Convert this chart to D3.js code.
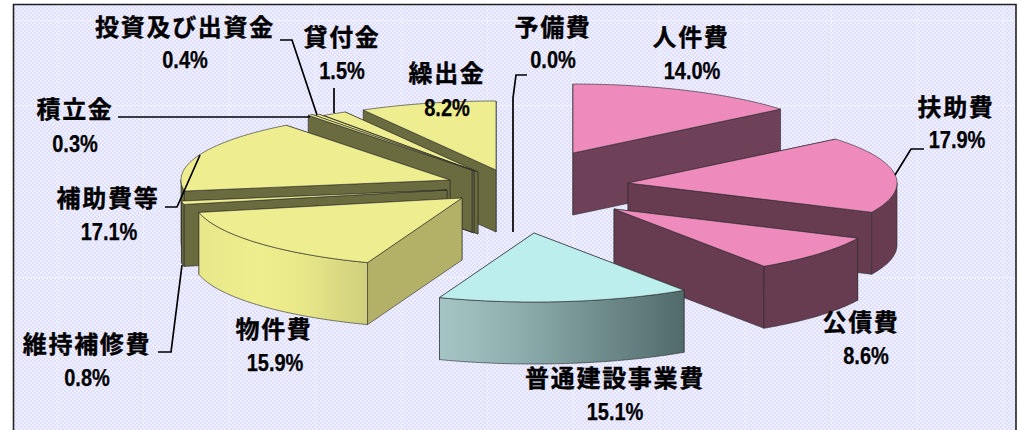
<!DOCTYPE html>
<html lang="ja">
<head>
<meta charset="utf-8">
<script src="https://cdn.jsdelivr.net/npm/d3@7/dist/d3.min.js"></script>
<style>
html,body{margin:0;padding:0;background:#fff;overflow:hidden}
svg{display:block}
.name{font-family:"Noto Sans CJK JP",sans-serif;font-weight:700;font-size:24px;letter-spacing:1.7px;text-anchor:middle;fill:#000;stroke:#000;stroke-width:0.35px}
.pct{font-family:"Liberation Sans",sans-serif;font-weight:700;font-size:23px;text-anchor:middle;fill:#000;stroke:#000;stroke-width:0.25px}
</style>
</head>
<body>
<svg id="c" width="1025" height="430"></svg>
<script>
// ---- data ----
const categories = ["人件費","扶助費","公債費","普通建設事業費","物件費","維持補修費","補助費等","積立金","投資及び出資金","貸付金","繰出金","予備費"];
const shares     = [14.0,17.9,8.6,15.1,15.9,0.8,17.1,0.3,0.4,1.5,8.2,0.0];

// ---- layout and style (kept apart from the data) ----
const W = 1025, H = 430;
const pieRx = 269, pieRy = 69, pieDepth = 62;
const sliceOrigin = [[573,153],[628,183],[614,209],[534,233],[462,198],[447,190],[450,180],[472,170],[474,171],[478,172],[496,170],[513,233]];
const paintOrder = [10,9,8,7,6,5,4,0,1,2,3];
const topColor  = ["#ee8bbc","#ee8bbc","#ee8bbc","#bdeeee","#eeee90","#eeee90","#eeee90","#eeee90","#eeee90","#eeee90","#eeee90","#eeee90"];
const wallStart = ["#6f4159","#673b50","#673b50","#5d7f7f","#b3b067","#6b6b40","#6b6b40","#6b6b40","#6b6b40","#6b6b40","#6b6b40","#6b6b40"];
const rimColor  = ["#6f4159","#673b50","#673b50","url(#rimCyan)","url(#rimYellow)","#6b6b40","#6b6b40","#6b6b40","#6b6b40","#6b6b40","#6b6b40","#6b6b40"];
const labelPos  = [[691,37,692,71],[956,107,957,140],[861,322,866,356],[615,378,615,412],[274,329,275,363],[87,344,87,378],[108,198,109,232],[75,109,75,144],[185,27,185,60],[342,37,342,71],[447,73,447,108],[553,27,553,60]];
const pctSqueeze = 0.87;
const leaders = [
  [[118,117],[310,117]],
  [[280,40],[292,40],[317,115]],
  [[334,88],[334,113]],
  [[165,207],[177,207],[200,155]],
  [[158,352],[171,352],[182,265]],
  [[527,75],[516,75],[513,98],[513,232]],
  [[924,149],[911,149],[895,175]]
];

const svg = d3.select("#c");
const defs = svg.append("defs");

// dithered background with dotted grid
const dither = defs.append("pattern").attr("id","dither").attr("width",4).attr("height",4).attr("patternUnits","userSpaceOnUse");
dither.append("rect").attr("width",4).attr("height",4).attr("fill","#dfdfff");
dither.append("rect").attr("width",2).attr("height",2).attr("fill","#efefff");
dither.append("rect").attr("x",2).attr("y",2).attr("width",2).attr("height",2).attr("fill","#efefff");

function gradient(id,x1,x2,stops){
  const g = defs.append("linearGradient").attr("id",id).attr("gradientUnits","userSpaceOnUse")
    .attr("x1",x1).attr("x2",x2).attr("y1",0).attr("y2",0);
  stops.forEach(([o,c])=>g.append("stop").attr("offset",o).attr("stop-color",c));
}
gradient("rimYellow",199,368,[[0,"#e8e88a"],[0.35,"#eeee8e"],[0.6,"#e9e98a"],[1,"#cfce7d"]]);
gradient("rimCyan",440,685,[[0,"#a4c5c4"],[0.3,"#8fb0af"],[1,"#506a6a"]]);

// frame
svg.append("rect").attr("x",13).attr("y",4).attr("width",1003).attr("height",H).attr("fill","url(#dither)").attr("shape-rendering","crispEdges");
const gridX = d3.range(57,1016,86), gridY = d3.range(20,430,85.75);
svg.append("g").selectAll("line").data(gridX).join("line")
  .attr("x1",d=>d).attr("x2",d=>d).attr("y1",5).attr("y2",H);
svg.append("g").selectAll("line").data(gridY).join("line")
  .attr("y1",d=>d).attr("y2",d=>d).attr("x1",14).attr("x2",1015);
svg.selectAll("g line").attr("stroke","#f6f6ff").attr("stroke-width",1).attr("stroke-dasharray","2 2").attr("shape-rendering","crispEdges");
svg.append("path").attr("d",`M13.5,${H}V4.5H1016V${H}`).attr("fill","none").attr("stroke","#222").attr("stroke-width",1.6);

// pie geometry
const arcs = d3.pie().sort(null).value(d=>d)(shares);
const ux = d3.scaleLinear().domain([-1,1]).range([-pieRx,pieRx]);
const uy = d3.scaleLinear().domain([-1,1]).range([-pieRy,pieRy]);
const line = d3.line();
function rim(i,t,dz){ const o=sliceOrigin[i]; return [o[0]+ux(Math.sin(t)), o[1]+uy(-Math.cos(t))+dz]; }
function samples(a,b){ const n=Math.max(2,Math.ceil((b-a)/0.02)); return d3.range(n+1).map(k=>a+(b-a)*k/n); }
function wall(i,t){ const o=sliceOrigin[i], e=rim(i,t,0); return [o,e,[e[0],e[1]+pieDepth],[o[0],o[1]+pieDepth]]; }

const pieG = svg.append("g");
paintOrder.forEach(i=>{
  const a=arcs[i], g=pieG.append("g");
  const faces=[];
  faces.push({pts:wall(i,a.endAngle),fill:wallStart[i],z:-Math.cos(a.endAngle)});
  faces.push({pts:wall(i,a.startAngle),fill:wallStart[i],z:-Math.cos(a.startAngle)});
  const f0=Math.max(a.startAngle,Math.PI/2), f1=Math.min(a.endAngle,Math.PI*1.5);
  if(f1>f0){
    const ts=samples(f0,f1);
    faces.push({pts:ts.map(t=>rim(i,t,0)).concat(ts.slice().reverse().map(t=>rim(i,t,pieDepth))),fill:rimColor[i],z:2});
  }
  faces.sort((p,q)=>d3.ascending(p.z,q.z));
  faces.forEach(f=>g.append("path").attr("d",line(f.pts)+"Z").attr("fill",f.fill).attr("stroke","#2a2a2a").attr("stroke-width",0.6).attr("stroke-linejoin","round"));
  const ts=samples(a.startAngle,a.endAngle);
  g.append("path").attr("d",line([sliceOrigin[i],...ts.map(t=>rim(i,t,0))])+"Z").attr("fill",topColor[i]).attr("stroke","#2a2a2a").attr("stroke-width",0.6).attr("stroke-linejoin","round");
});

// leader lines
svg.append("g").selectAll("path").data(leaders).join("path")
  .attr("d",d=>line(d)).attr("fill","none").attr("stroke","#000").attr("stroke-width",1.7);

// labels
const lab = svg.append("g").selectAll("g").data(categories).join("g");
lab.append("text").attr("class","name").attr("x",(d,i)=>labelPos[i][0]).attr("y",(d,i)=>labelPos[i][1]).attr("dy","0.36em").text(d=>d);
lab.append("text").attr("class","pct").attr("x",(d,i)=>labelPos[i][2]).attr("y",(d,i)=>labelPos[i][3]).attr("dy","0.36em").text((d,i)=>shares[i].toFixed(1)+"%")
  .each(function(){ d3.select(this).attr("textLength",this.getComputedTextLength()*pctSqueeze).attr("lengthAdjust","spacingAndGlyphs"); });
</script>
</body>
</html>
